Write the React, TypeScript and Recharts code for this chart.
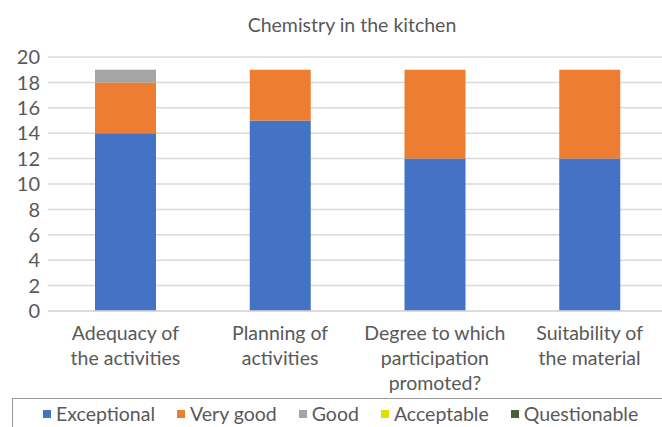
import React from 'react';
import { BarChart, Bar, XAxis, YAxis, CartesianGrid } from 'recharts';

const categories = [
  'Adequacy of\nthe activities',
  'Planning of\nactivities',
  'Degree to which\nparticipation\npromoted?',
  'Suitability of\nthe material',
];
const exceptional = [14, 15, 12, 12];
const veryGood = [4, 4, 7, 7];
const good = [1, 0, 0, 0];
const acceptable = [0, 0, 0, 0];
const questionable = [0, 0, 0, 0];
const yTicks = [0, 2, 4, 6, 8, 10, 12, 14, 16, 18, 20];

const series = [
  { key: 'exceptional', name: 'Exceptional', color: '#4472C4', values: exceptional },
  { key: 'veryGood', name: 'Very good', color: '#ED7D31', values: veryGood },
  { key: 'good', name: 'Good', color: '#A5A5A5', values: good },
  { key: 'acceptable', name: 'Acceptable', color: '#DDE200', values: acceptable },
  { key: 'questionable', name: 'Questionable', color: '#4B5E3A', values: questionable },
];

const data = categories.map((c, i) => {
  const row: any = { category: c };
  series.forEach((s) => (row[s.key] = s.values[i]));
  return row;
});

const FONT = 'Lato, "Open Sans", sans-serif';
const TEXT = '#595959';

const CatTick = (props: any) => {
  const { x, y, payload } = props;
  const lines = String(payload.value).split('\n');
  return (
    <text x={x} y={y} textAnchor="middle" fill={TEXT} fontSize={19.5} fontFamily={FONT}>
      {lines.map((l, i) => (
        <tspan key={i} x={x} dy={i === 0 ? 21 : 25}>
          {l}
        </tspan>
      ))}
    </text>
  );
};

export default function App() {
  return (
    <div
      style={{
        position: 'absolute',
        left: 0,
        top: 0,
        width: 662,
        height: 427,
        overflow: 'hidden',
        background: '#fff',
        fontFamily: FONT,
      }}
    >
      <div
        style={{
          position: 'absolute',
          left: 0,
          width: 704,
          top: 12,
          textAlign: 'center',
          fontSize: 19.5,
          color: TEXT,
          lineHeight: '26px',
        }}
      >
        Chemistry in the kitchen
      </div>
      <BarChart
        width={680}
        height={427}
        data={data}
        margin={{ top: 57, right: 13, left: 0, bottom: 36 }}
        barCategoryGap="20%"
      >
        <CartesianGrid vertical={false} stroke="#d9d9d9" strokeWidth={1.5} />
        <XAxis
          dataKey="category"
          height={80}
          interval={0}
          tickLine={false}
          axisLine={{ stroke: '#d9d9d9', strokeWidth: 1.5 }}
          tick={<CatTick />}
        />
        <YAxis
          width={48}
          domain={[0, 20]}
          ticks={yTicks}
          interval={0}
          tickLine={false}
          axisLine={false}
          tick={{ fill: TEXT, fontSize: 20, fontFamily: FONT }}
        />
        {series.map((s) => (
          <Bar
            key={s.key}
            dataKey={s.key}
            name={s.name}
            stackId="a"
            fill={s.color}
            isAnimationActive={false}
            barSize={61}
          />
        ))}
      </BarChart>
      <div
        style={{
          position: 'absolute',
          left: 12,
          top: 398,
          width: 700,
          height: 40,
          border: '1.5px solid #9a9a9a',
          boxSizing: 'border-box',
          display: 'flex',
          alignItems: 'flex-start',
          paddingLeft: 30,
          paddingTop: 3,
          gap: 22,
          fontSize: 19.5,
          color: TEXT,
        }}
      >
        {series.map((s) => (
          <div key={s.key} style={{ display: 'flex', alignItems: 'center' }}>
            <span
              style={{ width: 8, height: 8, background: s.color, marginRight: 5, display: 'inline-block' }}
            />
            <span>{s.name}</span>
          </div>
        ))}
      </div>
    </div>
  );
}
